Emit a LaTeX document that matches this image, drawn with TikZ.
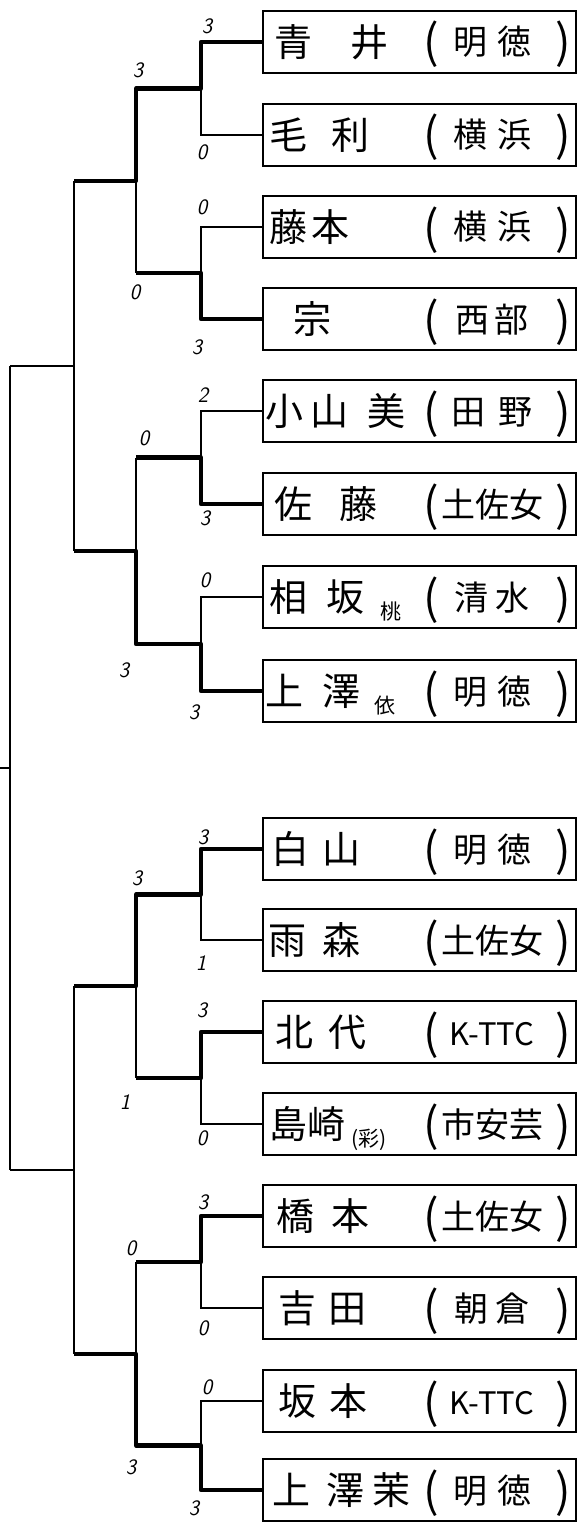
\documentclass[tikz,border=0pt]{standalone}
\usepackage{fontspec}
\newfontfamily\jp{Noto Sans CJK JP}
\newcommand\smjp[1]{{\fontsize{21}{21}\selectfont\raisebox{-8pt}{#1}}}
\newcommand\entrybox[5]{%
  \node[box] (b#1) at (419.5,#2) {};
  \node[nm] (n#1) at (#3,#2+14.5) {#4};
  \node[par] (l#1) at (431,#2+17) {(};
  \node[sch] (s#1) at (492,#2+13) {#5};
  \node[par] (r#1) at (563,#2+17) {)};
}
\begin{document}
\begin{tikzpicture}[x=1pt,y=-1pt,
  box/.style={draw, line width=1.6pt, minimum width=313pt, minimum height=62pt, inner sep=0pt},
  link/.style={line width=1.6pt},
  win/.style={line width=4.2pt, line join=round},
  nm/.style={anchor=base west, inner sep=0pt, font=\jp\fontsize{38}{38}\selectfont},
  sch/.style={anchor=base, inner sep=0pt, font=\jp\fontsize{34}{34}\selectfont},
  par/.style={anchor=base, inner sep=0pt, font=\jp\fontsize{46}{46}\selectfont},
  sc/.style={inner sep=0pt, font=\sffamily\itshape\fontsize{22}{22}\selectfont}]
\useasboundingbox (0,0) rectangle (578,1522);
\fill[white] (0,0) rectangle (578,1522);

% entries
\entrybox{1}{42}{274}{青\hspace{38pt}井}{明\hspace{10pt}徳}
\entrybox{2}{135}{269}{毛\hspace{24pt}利}{横\hspace{10pt}浜}
\entrybox{3}{227}{269}{藤\hspace{4pt}本}{横\hspace{10pt}浜}
\entrybox{4}{319}{293}{宗}{西\hspace{6pt}部}
\entrybox{5}{411}{265}{小\hspace{7pt}山\hspace{19pt}美}{田\hspace{14pt}野}
\entrybox{6}{504}{274}{佐\hspace{27pt}藤}{土佐女}
\entrybox{7}{597}{269}{相\hspace{19pt}坂\hspace{16pt}\smjp{桃}}{清\hspace{8pt}水}
\entrybox{8}{691}{265}{上\hspace{19pt}澤\hspace{14pt}\smjp{依}}{明\hspace{10pt}徳}
\entrybox{9}{849}{271}{白\hspace{13pt}山}{明\hspace{10pt}徳}
\entrybox{10}{940}{268}{雨\hspace{16pt}森}{土佐女}
\entrybox{11}{1032}{275}{北\hspace{15pt}代}{\fontsize{31}{31}\selectfont K-TTC}
\entrybox{12}{1124}{269}{島崎\hspace{6pt}\smjp{(彩)}}{市安芸}
\entrybox{13}{1216}{276}{橋\hspace{17pt}本}{土佐女}
\entrybox{14}{1308}{278}{吉\hspace{12pt}田}{朝\hspace{8pt}倉}
\entrybox{15}{1401}{278}{坂\hspace{13pt}本}{\fontsize{31}{31}\selectfont K-TTC}
\entrybox{16}{1490}{272}{上\hspace{16pt}澤\hspace{8pt}茉}{明\hspace{10pt}徳}

% junctions
\coordinate (p1) at (201,88.5);  \coordinate (q1) at (136,88.5);
\coordinate (p2) at (201,273);   \coordinate (q2) at (136,273);
\coordinate (p3) at (201,457.5); \coordinate (q3) at (136,457.5);
\coordinate (p4) at (201,644);   \coordinate (q4) at (136,644);
\coordinate (p5) at (201,894.5); \coordinate (q5) at (136,894.5);
\coordinate (p6) at (201,1078);  \coordinate (q6) at (136,1078);
\coordinate (p7) at (201,1262);  \coordinate (q7) at (136,1262);
\coordinate (p8) at (201,1445.5);\coordinate (q8) at (136,1445.5);
\coordinate (s1) at (136,181);   \coordinate (t1) at (74,181);
\coordinate (s2) at (136,551);   \coordinate (t2) at (74,551);
\coordinate (s3) at (136,986);   \coordinate (t3) at (74,986);
\coordinate (s4) at (136,1354);  \coordinate (t4) at (74,1354);
\coordinate (u1) at (74,366);    \coordinate (v1) at (10,366);
\coordinate (u2) at (74,1170);   \coordinate (v2) at (10,1170);
\coordinate (w) at (10,768);     \coordinate (w0) at (0,768);

% thin bracket lines
\foreach \k/\a/\b in {1/1/2,2/3/4,3/5/6,4/7/8,5/9/10,6/11/12,7/13/14,8/15/16}{
  \draw[link] (b\a.west) -| (p\k);
  \draw[link] (b\b.west) -| (p\k);
  \draw[link] (p\k) -- (q\k);
}
\foreach \j/\a/\b in {1/1/2,2/3/4,3/5/6,4/7/8}{
  \draw[link] (q\a) -- (q\b);
  \draw[link] (s\j) -- (t\j);
}
\draw[link] (t1) -- (t2);
\draw[link] (t3) -- (t4);
\draw[link] (u1) -- (v1);
\draw[link] (u2) -- (v2);
\draw[link] (v1) -- (v2);
\draw[link] (w) -- (w0);

% winners
\draw[win] (b1.west) -| (p1) -- (q1) -- (s1) -- (t1);
\draw[win] (b4.west) -| (p2) -- (q2);
\draw[win] (b6.west) -| (p3) -- (q3);
\draw[win] (b8.west) -| (p4) -- (q4) -- (s2) -- (t2);
\draw[win] (b9.west) -| (p5) -- (q5) -- (s3) -- (t3);
\draw[win] (b11.west) -| (p6) -- (q6);
\draw[win] (b13.west) -| (p7) -- (q7);
\draw[win] (b16.west) -| (p8) -- (q8) -- (s4) -- (t4);

% scores round 1
\node[sc] (a1) at (207,26) {3};
\node[sc] (a2) at (202,152) {0};
\node[sc] (a3) at (202,207) {0};
\node[sc] (a4) at (197,347) {3};
\node[sc] (a5) at (203,395) {2};
\node[sc] (a6) at (205,518) {3};
\node[sc] (a7) at (205,580) {0};
\node[sc] (a8) at (194,712) {3};
\node[sc] (a9) at (203,837) {3};
\node[sc] (a10) at (201,963) {1};
\node[sc] (a11) at (202,1010) {3};
\node[sc] (a12) at (202,1138) {0};
\node[sc] (a13) at (203,1202) {3};
\node[sc] (a14) at (203,1328) {0};
\node[sc] (a15) at (207,1387) {0};
\node[sc] (a16) at (194,1508) {3};
% scores round 2
\node[sc] (c1) at (138,70) {3};
\node[sc] (c2) at (135,292) {0};
\node[sc] (c3) at (144,438) {0};
\node[sc] (c4) at (124,670) {3};
\node[sc] (c5) at (137,878) {3};
\node[sc] (c6) at (125,1102) {1};
\node[sc] (c7) at (131,1248) {0};
\node[sc] (c8) at (131,1467) {3};
\end{tikzpicture}
\end{document}
